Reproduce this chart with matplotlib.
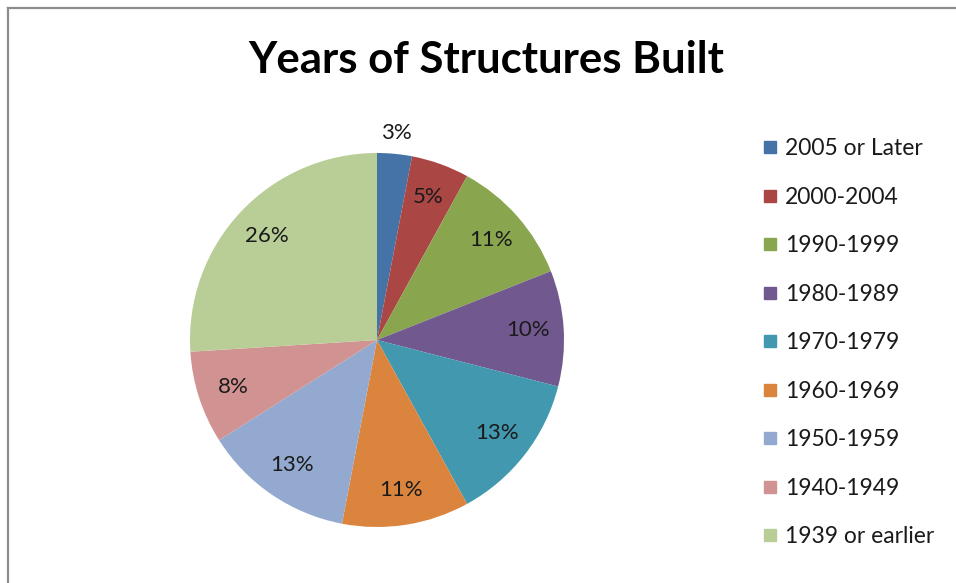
import matplotlib.pyplot as plt
import numpy as np
from matplotlib.lines import Line2D

plt.rcParams['font.family'] = ['Lato', 'DejaVu Sans']

periods = ["2005 or Later", "2000-2004", "1990-1999", "1980-1989", "1970-1979",
           "1960-1969", "1950-1959", "1940-1949", "1939 or earlier"]
shares = [3, 5, 11, 10, 13, 11, 13, 8, 26]
colors = ["#4572A7", "#AA4643", "#89A54E", "#71588F", "#4198AF",
          "#DB843D", "#93A9CF", "#D19392", "#B9CD96"]

W, H = 956, 583
fig = plt.figure(figsize=(W / 100, H / 100), dpi=100)

# pie area, 374 px square centred at (377, 340)
r = 187
cx, cy = 377, 340
ax = fig.add_axes([(cx - r) / W, (H - cy - r) / H, 2 * r / W, 2 * r / H])
wedges, texts, autotexts = ax.pie(shares, colors=colors, startangle=90, counterclock=False,
                                  radius=1, autopct="%d%%", pctdistance=0.81,
                                  textprops=dict(fontsize=16, color="#1a1a1a"))
ax.set_xlim(-1, 1)
ax.set_ylim(-1, 1)
ax.set_aspect("equal")
ax.axis("off")

# smallest slice gets its label outside the pie
w0 = wedges[0]
ang = np.deg2rad((w0.theta1 + w0.theta2) / 2)
autotexts[0].set_position((1.11 * np.cos(ang), 1.11 * np.sin(ang)))
for t in autotexts:
    t.set_clip_on(False)

fig.text(486 / W, 1 - 60 / H, "Years of Structures Built", ha="center", va="center",
         fontsize=31.5, fontweight="bold", color="black")

handles = [Line2D([], [], marker="s", linestyle="None", markersize=8.5,
                  markerfacecolor=c, markeredgecolor=c) for c in colors]
fig.legend(handles, periods, loc="upper left", bbox_to_anchor=(751 / W, 1 - 127 / H),
           frameon=False, fontsize=16.5, labelspacing=1.2, handlelength=0.7,
           handletextpad=0.3, borderpad=0, labelcolor="#1a1a1a")

# chart area border (top and left edges visible)
fig.add_artist(Line2D([8 / W, 8 / W], [0, 1 - 8 / H], transform=fig.transFigure,
                      color="#8c8c8c", linewidth=1.6))
fig.add_artist(Line2D([8 / W, 1], [1 - 8 / H, 1 - 8 / H], transform=fig.transFigure,
                      color="#8c8c8c", linewidth=1.6))

fig.savefig("out.png", dpi=100)
